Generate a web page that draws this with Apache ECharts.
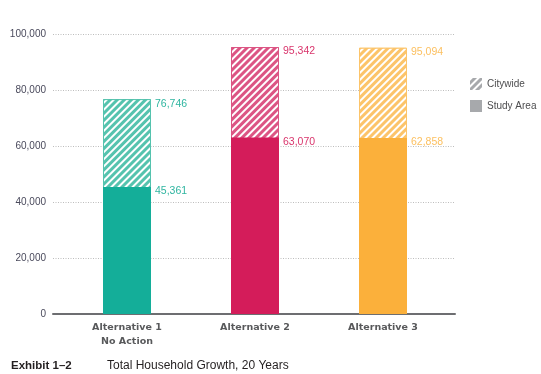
<!DOCTYPE html>
<html><head><meta charset="utf-8">
<script src="https://cdn.jsdelivr.net/npm/echarts@6/dist/echarts.min.js"></script>
<style>html,body{margin:0;padding:0;background:#fff}#c{width:541px;height:374px}</style>
</head><body><div id="c"></div>
<script>
var categories = ['Alternative 1\nNo Action', 'Alternative 2', 'Alternative 3'];
var citywide = [76746, 95342, 95094];
var studyArea = [45361, 63070, 62858];
var yTicks = [0, 20000, 40000, 60000, 80000, 100000];
var solidColors = ['#14ae99', '#d41c5a', '#fbb03b'];
var stripeColors = ['#55c3ae', '#dc5584', '#fcc46a'];
var labelColors = ['#2fb5a0', '#d9356c', '#fcc061'];

var fmt = function (v) { return v.toLocaleString('en-US'); };
var font = 'Liberation Sans, Arial, sans-serif';

var chart = echarts.init(document.getElementById('c'), null, {renderer: 'canvas'});
var decal = function (c) {
  return {symbol: 'rect', symbolSize: 1, dashArrayX: [1, 0], dashArrayY: [2, 2.2], rotation: -Math.PI / 4, color: c};
};
chart.setOption({
  animation: false,
  grid: [
    {left: 53, right: 86, top: 34, bottom: 60},
    {left: 63, width: 384, top: 34, bottom: 60}
  ],
  xAxis: [
    {gridIndex: 0, type: 'value', min: 0, max: 1, axisLabel: {show: false}, splitLine: {show: false}, axisTick: {show: false},
     axisLine: {show: true, lineStyle: {color: '#6d6e71', width: 2}}},
    {gridIndex: 1, type: 'category', data: categories, axisLine: {show: false}, axisTick: {show: false},
     axisLabel: {margin: 7, color: '#58595b', fontFamily: 'DejaVu Sans', fontWeight: 'bold', fontSize: 9.5, lineHeight: 14}}
  ],
  yAxis: [
    {gridIndex: 0, type: 'value', min: 0, max: 100000, interval: 20000,
     axisLine: {show: false}, axisTick: {show: false},
     axisLabel: {color: '#4a4a5c', fontFamily: font, fontSize: 10, margin: 7, formatter: function (v) { return fmt(v); }},
     splitLine: {show: true, lineStyle: {color: '#bdbdbd', type: [1, 1.5], width: 1}}},
    {gridIndex: 1, type: 'value', min: 0, max: 100000, show: false, splitLine: {show: false}}
  ],
  legend: {
    orient: 'vertical', left: 465, top: 73, itemWidth: 12, itemHeight: 12, itemGap: 10,
    textStyle: {color: '#4d4d4f', fontFamily: font, fontSize: 10},
    data: [
      {name: 'Citywide', icon: 'rect', itemStyle: {color: '#a7a9ac', borderWidth: 0, decal: decal('#ffffff')}},
      {name: 'Study Area', icon: 'rect', itemStyle: {color: '#a7a9ac', borderWidth: 0}}
    ]
  },
  series: [
    {
      name: 'Citywide', type: 'bar', xAxisIndex: 1, yAxisIndex: 1, barWidth: 48, barGap: '-100%', z: 2,
      data: citywide.map(function (v, i) {
        return {value: v, itemStyle: {color: stripeColors[i], borderColor: stripeColors[i], borderWidth: 1, decal: decal('#ffffff')},
          label: {color: labelColors[i]}};
      }),
      label: {show: true, position: ['100%', 0], offset: [4, -1], align: 'left', verticalAlign: 'top', fontFamily: font, fontSize: 10.5,
        formatter: function (p) { return fmt(p.value); }}
    },
    {
      name: 'Study Area', type: 'bar', xAxisIndex: 1, yAxisIndex: 1, barWidth: 48, barGap: '-100%', z: 3,
      data: studyArea.map(function (v, i) {
        return {value: v, itemStyle: {color: solidColors[i]}, label: {color: labelColors[i]}};
      }),
      label: {show: true, position: ['100%', 0], offset: [4, -1], align: 'left', verticalAlign: 'top', fontFamily: font, fontSize: 10.5,
        formatter: function (p) { return fmt(p.value); }}
    }
  ],
  graphic: [
    {type: 'text', left: 11, top: 360, style: {text: 'Exhibit 1\u20132', fill: '#231f20', font: 'bold 11.5px ' + font}},
    {type: 'text', left: 107, top: 360, style: {text: 'Total Household Growth, 20 Years', fill: '#231f20', font: '12px ' + font}}
  ]
});
</script></body></html>
